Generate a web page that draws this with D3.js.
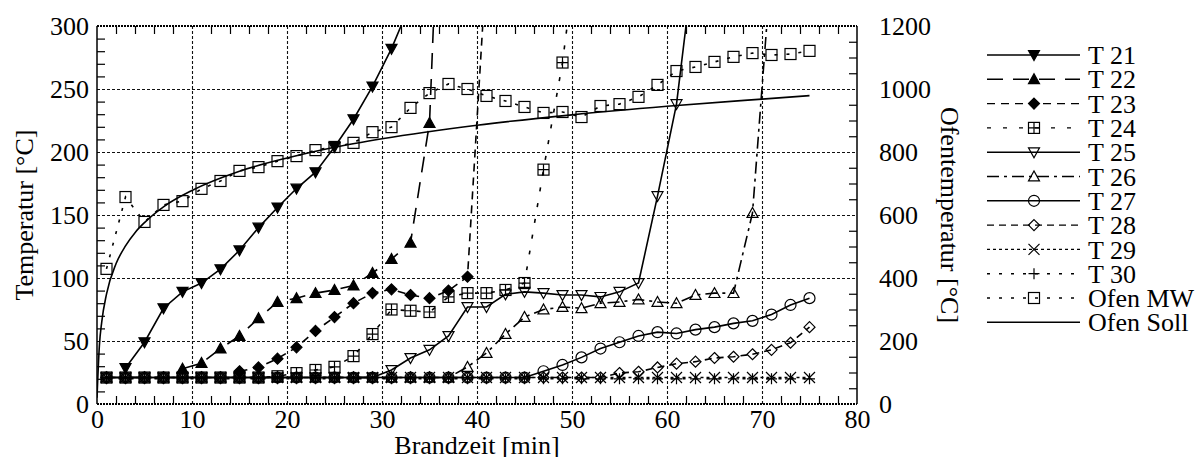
<!DOCTYPE html>
<html>
<head>
<meta charset="utf-8">
<script src="https://cdn.jsdelivr.net/npm/d3@7"></script>
<style>
  html, body { margin: 0; padding: 0; background: #fff; }
  svg { display: block; }
</style>
</head>
<body>
<svg id="chart" width="1204" height="457"></svg>
<script>
// ---------------- data ----------------
const times = [1,3,5,7,9,11,13,15,17,19,21,23,25,27,29,31,33,35,37,39,41,43,45,47,49,51,53,55,57,59,61,63,65,67,69,71,73,75];

const T21 = [null,28.5,49,76,89,96,107,122,140,156,171,184,204,226,252,282,318,null,null,null,null,null,null,null,null,null,null,null,null,null,null,null,null,null,null,null,null,null];
const T22 = [null,null,null,null,28,32.5,44,54,68,81,84,88,90.5,94,104,115,128,223,600,null,null,null,null,null,null,null,null,null,null,null,null,null,null,null,null,null,null,null];
const T23 = [null,null,null,null,null,null,null,26,29,36,45,58,69,80,88,91,86.5,84,90,101,350,null,null,null,null,null,null,null,null,null,null,null,null,null,null,null,null,null];
const T24 = [21,21,21,21,21,21,21,21,21,22,24.5,27,29.5,38,55.5,75,74,73,85,88,88,90.5,96,186,271,390,null,null,null,null,null,null,null,null,null,null,null,null];
const T25 = [21,21,21,21,21,21,21,21,21,21,21,21,21,21,21,27,36.5,43,54,77,77,87,89,88,86.5,86.5,85,89,96,165,238,362,null,null,null,null,null,null];
const T26 = [21,21,21,21,21,21,21,21,21,21,21,21,21,21,21,21,21,21,21,29.4,40.5,55.5,69,75,77,76,80,81,83,81,80,86.5,88,88,151.6,350,null,null];
const T27 = [21,21,21,21,21,21,21,21,21,21,21,21,21,21,21,21,21,21,21,21,21,21,21,26,31,37,44,49,54,57,56,59,61,64,66,71,78.6,84];
const T28 = [21,21,21,21,21,21,21,21,21,21,21,21,21,21,21,21,21,21,21,21,21,21,21,21,21,21,21,24.6,25.6,29,32,33.6,36.5,37.5,39.5,43,48.6,61];
const T29 = [21,21,21,21,21,21,21,21,21,21,21,21,21,21,21,21,21,21,21,21,21,21,21,21,21,21,21,21,21,21,21,21,21,21,21,21,21,21];
const T30 = [20,20,20,20,20,20,20,20,20,20,20,20,20,20,20,20,20,20,20,20,20,20,20,20,20,20,20,20,20,20,20,20,20,20,20,20,20,20];
// furnace values (right axis, °C)
const ofenMW = [429,657,578,632,644,683,708,740,752,771,787,806,816,829,863,879,940,987,1016,1000,978,962,943,924,927,911,946,952,975,1013,1057,1070,1086,1102,1114,1108,1111,1121];
const sollTimes = [0,0.25,0.5,1,2,3,4,5,7,10,15,20,25,30,40,50,60,70,75];
const ofenSoll = [20,185,261,349,445,502,544,576,626,678,739,781,815,842,885,918,945,968,979];

const xTickLabels = [0,10,20,30,40,50,60,70,80];
const yTickLabels = [0,50,100,150,200,250,300];
const y2TickLabels = [0,200,400,600,800,1000,1200];
const seriesNames = ["T 21","T 22","T 23","T 24","T 25","T 26","T 27","T 28","T 29","T 30","Ofen MW","Ofen Soll"];

// ---------------- layout ----------------
const svg = d3.select("#chart");
const L = 97, R = 857, T = 26, B = 404;
const x = d3.scaleLinear().domain([0, 80]).range([L, R]);
const y = d3.scaleLinear().domain([0, 300]).range([B, T]);
const y2 = d3.scaleLinear().domain([0, 1200]).range([B, T]);
const FS = 26;
const FONT = "'Liberation Serif', 'Times New Roman', Times, serif";

svg.append("defs").append("clipPath").attr("id", "clip")
  .append("rect").attr("x", L).attr("y", T).attr("width", R - L).attr("height", B - T);

// grid
const gridStyle = g => g.selectAll("line").attr("stroke", "#111").attr("stroke-width", 1.1).attr("stroke-dasharray", "3,2");
svg.append("g").attr("transform", `translate(0,${B})`)
  .call(d3.axisBottom(x).tickValues([10,20,30,40,50,60,70]).tickSize(-(B - T)).tickFormat(""))
  .call(g => g.select(".domain").remove()).call(gridStyle);
svg.append("g").attr("transform", `translate(${L},0)`)
  .call(d3.axisLeft(y).tickValues([50,100,150,200,250]).tickSize(-(R - L)).tickFormat(""))
  .call(g => g.select(".domain").remove()).call(gridStyle);

// minor ticks (inward)
const minorX = d3.range(2, 80, 2).filter(v => v % 10 !== 0);
const minorY = d3.range(10, 300, 10).filter(v => v % 50 !== 0);
const minorY2 = d3.range(50, 1200, 50).filter(v => v % 200 !== 0);
const tickStyle = g => { g.select(".domain").remove(); g.selectAll("line").attr("stroke", "#000").attr("stroke-width", 1.2); };
svg.append("g").attr("transform", `translate(0,${B})`)
  .call(d3.axisBottom(x).tickValues(minorX).tickSize(-8).tickFormat("")).call(tickStyle);
svg.append("g").attr("transform", `translate(0,${T})`)
  .call(d3.axisTop(x).tickValues(minorX).tickSize(-8).tickFormat("")).call(tickStyle);
svg.append("g").attr("transform", `translate(${L},0)`)
  .call(d3.axisLeft(y).tickValues(minorY).tickSize(-8).tickFormat("")).call(tickStyle);
svg.append("g").attr("transform", `translate(${R},0)`)
  .call(d3.axisRight(y2).tickValues(minorY2).tickSize(-8).tickFormat("")).call(tickStyle);

// frame
const frame = svg.append("g").attr("stroke", "#000").attr("fill", "none");
frame.append("line").attr("x1", L).attr("x2", R).attr("y1", T).attr("y2", T).attr("stroke-width", 2).attr("stroke-dasharray", "2,1");
frame.append("line").attr("x1", L).attr("x2", R).attr("y1", B).attr("y2", B).attr("stroke-width", 2).attr("stroke-dasharray", "2,1");
frame.append("line").attr("x1", L).attr("x2", L).attr("y1", T).attr("y2", B).attr("stroke-width", 1.5);
frame.append("line").attr("x1", R).attr("x2", R).attr("y1", T).attr("y2", B).attr("stroke-width", 1.5);

// tick labels
const fmt = d3.format("d");
const labelStyle = g => { g.select(".domain").remove(); g.selectAll("line").remove(); g.selectAll("text").attr("font-size", FS); };
svg.append("g").attr("transform", `translate(0,${B})`)
  .call(d3.axisBottom(x).tickValues(xTickLabels).tickFormat(fmt).tickSize(0).tickPadding(6)).call(labelStyle);
svg.append("g").attr("transform", `translate(${L},0)`)
  .call(d3.axisLeft(y).tickValues(yTickLabels).tickFormat(fmt).tickSize(0).tickPadding(8)).call(labelStyle);
svg.append("g").attr("transform", `translate(${R},0)`)
  .call(d3.axisRight(y2).tickValues(y2TickLabels).tickFormat(fmt).tickSize(0).tickPadding(22)).call(labelStyle);

// axis titles
svg.append("text").attr("x", 477).attr("y", 454).attr("text-anchor", "middle").attr("font-size", FS).text("Brandzeit [min]");
svg.append("text").attr("transform", "translate(33,215) rotate(-90)").attr("text-anchor", "middle").attr("font-size", FS).text("Temperatur [°C]");
svg.append("text").attr("transform", "translate(941,215) rotate(90)").attr("text-anchor", "middle").attr("font-size", FS).text("Ofentemperatur [°C]");

// ---------------- markers ----------------
const S = 5.5;
function drawMarker(g, type, cx, cy) {
  const m = g.append("g").attr("transform", `translate(${cx},${cy})`).attr("stroke", "#000").attr("stroke-width", 1.2);
  switch (type) {
    case "triDownF": m.append("path").attr("d", `M${-S},${-S*0.8}L${S},${-S*0.8}L0,${S*1.0}Z`).attr("fill", "#000"); break;
    case "triUpF": m.append("path").attr("d", `M${-S},${S*0.8}L${S},${S*0.8}L0,${-S*1.0}Z`).attr("fill", "#000"); break;
    case "diamondF": m.append("path").attr("d", `M0,${-S}L${S},0L0,${S}L${-S},0Z`).attr("fill", "#000"); break;
    case "squarePlus":
      m.append("rect").attr("x", -S).attr("y", -S).attr("width", 2*S).attr("height", 2*S).attr("fill", "none");
      m.append("path").attr("d", `M${-S},0L${S},0M0,${-S}L0,${S}`).attr("fill", "none"); break;
    case "triDown": m.append("path").attr("d", `M${-S},${-S*0.8}L${S},${-S*0.8}L0,${S*1.0}Z`).attr("fill", "none"); break;
    case "triUp": m.append("path").attr("d", `M${-S},${S*0.8}L${S},${S*0.8}L0,${-S*1.0}Z`).attr("fill", "none"); break;
    case "circle": m.append("circle").attr("r", S).attr("fill", "none"); break;
    case "diamond": m.append("path").attr("d", `M0,${-S}L${S},0L0,${S}L${-S},0Z`).attr("fill", "none"); break;
    case "cross": m.append("path").attr("d", `M${-S},${-S}L${S},${S}M${-S},${S}L${S},${-S}`).attr("fill", "none"); break;
    case "plus": m.append("path").attr("d", `M${-S},0L${S},0M0,${-S}L0,${S}`).attr("fill", "none"); break;
    case "square": m.append("rect").attr("x", -S).attr("y", -S).attr("width", 2*S).attr("height", 2*S).attr("fill", "none"); break;
  }
}

const series = [
  { name: seriesNames[0], vals: T21, marker: "triDownF", dash: null, scale: y },
  { name: seriesNames[1], vals: T22, marker: "triUpF", dash: "16,10", scale: y },
  { name: seriesNames[2], vals: T23, marker: "diamondF", dash: "8,6", scale: y },
  { name: seriesNames[3], vals: T24, marker: "squarePlus", dash: "4,12", scale: y },
  { name: seriesNames[4], vals: T25, marker: "triDown", dash: null, scale: y },
  { name: seriesNames[5], vals: T26, marker: "triUp", dash: "12,5,3,5", scale: y },
  { name: seriesNames[6], vals: T27, marker: "circle", dash: null, scale: y },
  { name: seriesNames[7], vals: T28, marker: "diamond", dash: "7,5", scale: y },
  { name: seriesNames[8], vals: T29, marker: "cross", dash: "3,3", scale: y },
  { name: seriesNames[9], vals: T30, marker: "plus", dash: "3,9", scale: y },
  { name: seriesNames[10], vals: ofenMW, marker: "square", dash: "3,9", scale: y2 }
];

const plot = svg.append("g").attr("clip-path", "url(#clip)");

// Soll curve
const sollLine = d3.line().x((d, i) => x(sollTimes[i])).y(d => y2(d)).curve(d3.curveMonotoneX);
plot.append("path").attr("d", sollLine(ofenSoll)).attr("fill", "none").attr("stroke", "#000").attr("stroke-width", 1.6);

series.forEach(s => {
  const line = d3.line().defined(d => d != null).x((d, i) => x(times[i])).y(d => s.scale(d));
  const p = plot.append("path").attr("d", line(s.vals)).attr("fill", "none").attr("stroke", "#000").attr("stroke-width", 1.6);
  if (s.dash) p.attr("stroke-dasharray", s.dash);
  const mg = plot.append("g");
  s.vals.forEach((v, i) => {
    if (v == null) return;
    const py = s.scale(v);
    if (py < T - 2) return;
    drawMarker(mg, s.marker, x(times[i]), py);
  });
});

// ---------------- legend ----------------
const lg = svg.append("g");
const lx0 = 987, lx1 = 1080, lmx = 1034, ltx = 1088, ly0 = 55, ldy = 24.3;
const legendItems = series.concat([{ name: seriesNames[11], marker: null, dash: null }]);
legendItems.forEach((s, i) => {
  const yy = ly0 + i * ldy;
  const ln = lg.append("line").attr("x1", lx0).attr("x2", lx1).attr("y1", yy).attr("y2", yy)
    .attr("stroke", "#000").attr("stroke-width", 1.4);
  if (s.dash) ln.attr("stroke-dasharray", s.dash);
  if (s.marker) drawMarker(lg, s.marker, lmx, yy);
  lg.append("text").attr("x", ltx).attr("y", yy).attr("dy", "0.35em").attr("font-size", FS).text(s.name);
});

// font for every text
svg.selectAll("text").style("font-family", FONT).attr("fill", "#000");
</script>
</body>
</html>
